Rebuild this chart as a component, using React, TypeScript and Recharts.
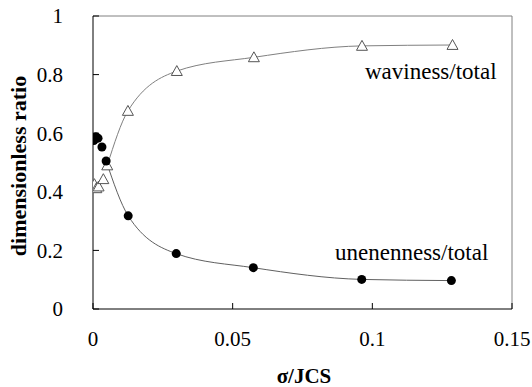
import { ComposedChart, Line, Scatter, XAxis, YAxis, ReferenceLine } from "recharts"

// sigma/JCS values and ratios
const unevenX = [0.0003, 0.001, 0.0018, 0.0032, 0.0047, 0.0126, 0.0298, 0.0574, 0.0962, 0.1283]
const unevenY = [0.575, 0.588, 0.583, 0.553, 0.505, 0.318, 0.189, 0.141, 0.101, 0.097]

const wavyX = [0.0005, 0.0012, 0.002, 0.0037, 0.0051, 0.0125, 0.03, 0.0576, 0.0963, 0.1287]
const wavyY = [0.426, 0.412, 0.418, 0.443, 0.49, 0.676, 0.812, 0.859, 0.898, 0.901]

// smoothed trend lines
const unevenFitX = [0.0047, 0.0126, 0.0298, 0.0574, 0.0962, 0.1283]
const unevenFitY = [0.505, 0.318, 0.189, 0.141, 0.101, 0.097]
const wavyFitX = [0.0051, 0.0125, 0.03, 0.0576, 0.0963, 0.1287]
const wavyFitY = [0.49, 0.676, 0.812, 0.859, 0.898, 0.901]

const xTicks = [0, 0.05, 0.1, 0.15]
const yTicks = [0, 0.2, 0.4, 0.6, 0.8, 1]

const zip = (xs: number[], ys: number[]) => xs.map((x, i) => ({ x, y: ys[i] }))

const FONT = "'Liberation Serif', serif"

const Triangle = (props: any) => {
  const { cx, cy } = props
  const s = 5.5
  return (
    <polygon
      points={`${cx},${cy - s} ${cx + s},${cy + s * 0.8} ${cx - s},${cy + s * 0.8}`}
      fill="#fff"
      stroke="#555"
      strokeWidth={1}
    />
  )
}

const Dot = (props: any) => <circle cx={props.cx} cy={props.cy} r={4.5} fill="#000" />

export default function App() {
  return (
    <div style={{ position: "absolute", left: 0, top: 0, background: "#fff" }}>
      <ComposedChart
        width={532}
        height={387}
        margin={{ top: 16, right: 20, left: 0, bottom: 0 }}
      >
        <XAxis
          type="number"
          dataKey="x"
          domain={[0, 0.15]}
          ticks={xTicks}
          tickFormatter={(v) => String(v)}
          height={78}
          stroke="#000"
          tickSize={-6}
          tickMargin={28}
          tick={{ fontSize: 21, fill: "#000", fontFamily: FONT }}
          allowDataOverflow
        />
        <YAxis
          type="number"
          dataKey="y"
          domain={[0, 1]}
          ticks={yTicks}
          tickFormatter={(v) => String(v)}
          width={93}
          stroke="#000"
          tickSize={-6}
          tickMargin={36}
          tick={{ fontSize: 21, fill: "#000", fontFamily: FONT }}
        />
        <ReferenceLine y={1} stroke="#808080" />
        <ReferenceLine x={0.15} stroke="#808080" />
        <Line
          data={zip(wavyFitX, wavyFitY)}
          dataKey="y"
          type="monotone"
          stroke="#808080"
          strokeWidth={1}
          dot={false}
          isAnimationActive={false}
        />
        <Line
          data={zip(unevenFitX, unevenFitY)}
          dataKey="y"
          type="monotone"
          stroke="#606060"
          strokeWidth={1}
          dot={false}
          isAnimationActive={false}
        />
        <Scatter data={zip(wavyX, wavyY)} dataKey="y" shape={<Triangle />} isAnimationActive={false} />
        <Scatter data={zip(unevenX, unevenY)} dataKey="y" shape={<Dot />} isAnimationActive={false} />
        <text x={365} y={79} fontSize={23} fontFamily={FONT} fill="#000">
          waviness/total
        </text>
        <text x={335} y={260} fontSize={23} fontFamily={FONT} fill="#000">
          unenenness/total
        </text>
        <text x={304} y={383} fontSize={21} fontWeight="bold" textAnchor="middle" fontFamily={FONT} fill="#000">
          σ/JCS
        </text>
        <text
          x={26}
          y={166}
          fontSize={22}
          fontWeight="bold"
          textAnchor="middle"
          fontFamily={FONT}
          fill="#000"
          transform="rotate(-90, 26, 166)"
        >
          dimensionless ratio
        </text>
      </ComposedChart>
    </div>
  )
}
